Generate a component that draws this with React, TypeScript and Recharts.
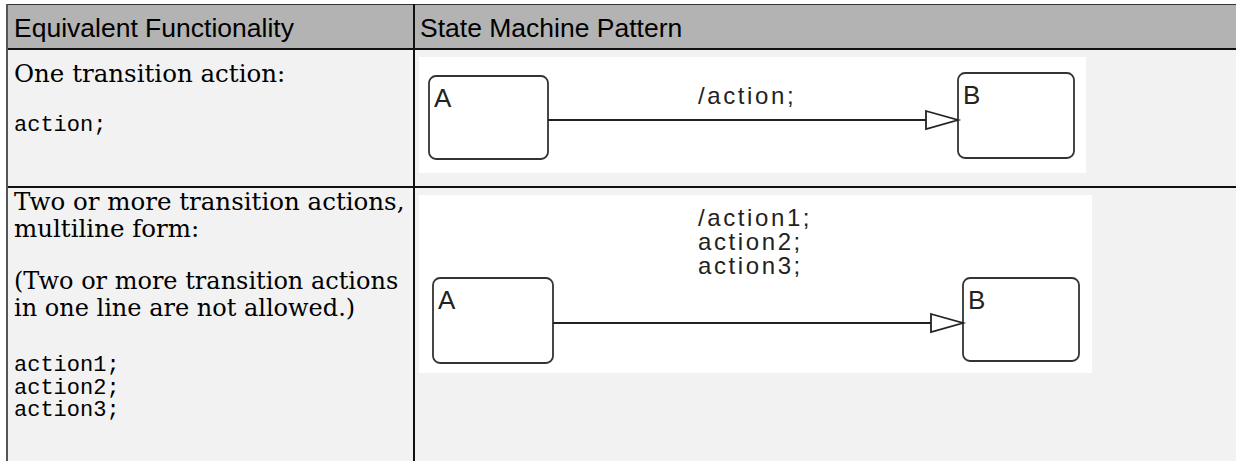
import { ComposedChart, Line, ReferenceArea, ReferenceDot, XAxis, YAxis } from 'recharts';

const columnTitles = ['Equivalent Functionality', 'State Machine Pattern'];

const oneText = ['One transition action:'];
const oneCode = ['action;'];
const twoText = ['Two or more transition actions,', 'multiline form:'];
const twoNote = ['(Two or more transition actions', 'in one line are not allowed.)'];
const twoCode = ['action1;', 'action2;', 'action3;'];

// diagram values are in canvas units (x to the right, y downwards)
const stateNames = ['A', 'B'];

const oneStateX = [[10, 129], [539, 655]];
const oneStateY = [[19, 102], [16, 101]];
const oneEdge = [{ x: 129, y: 63 }, { x: 539, y: 63 }];
const oneLabel = ['/action;'];
const oneLabelAt = { x: 279, y: 47 };

const twoStateX = [[14, 134], [544, 660]];
const twoStateY = [[83, 168], [83, 166]];
const twoEdge = [{ x: 134, y: 128 }, { x: 544, y: 128 }];
const twoLabel = ['/action1;', 'action2;', 'action3;'];
const twoLabelAt = { x: 279, y: 31 };

const SANS = "'Liberation Sans', Arial, sans-serif";
const SERIF = "'DejaVu Serif', serif";
const MONO = "'Liberation Mono', 'Courier New', monospace";
const INK = '#222';

function StateBox(props: any) {
  const { x, y, width, height, name } = props;
  return (
    <g>
      <rect x={x} y={y} width={width} height={height} rx={7} ry={7} fill="#fff" stroke="#333" strokeWidth={1.8} />
      <text x={x + 5} y={y + 31} fontSize={26} fontFamily={SANS} fill={INK}>
        {name}
      </text>
    </g>
  );
}

function Arrowhead(props: any) {
  const { cx, cy, index } = props;
  if (index !== 1) return <g key={`d${index}`} />;
  return (
    <polygon
      key="tip"
      points={`${cx - 32},${cy - 9} ${cx},${cy} ${cx - 32},${cy + 9}`}
      fill="#fff"
      stroke={INK}
      strokeWidth={1.8}
    />
  );
}

function EdgeLabel(props: any) {
  const { cx, cy, lines } = props;
  return (
    <text x={cx} y={cy} fontSize={24} fontFamily={SANS} fill={INK} letterSpacing={2.6}>
      {lines.map((t: string, i: number) => (
        <tspan key={t} x={cx} dy={i === 0 ? 0 : 24}>
          {t}
        </tspan>
      ))}
    </text>
  );
}

function Diagram({ width, height, xs, ys, edge, label, labelAt }: any) {
  return (
    <div style={{ width, height, background: '#fff' }}>
      <ComposedChart width={width} height={height} data={edge} margin={{ top: 0, right: 0, bottom: 0, left: 0 }}>
        <XAxis type="number" dataKey="x" domain={[0, width]} hide />
        <YAxis type="number" domain={[0, height]} reversed hide />
        {stateNames.map((name, i) => (
          <ReferenceArea
            key={name}
            x1={xs[i][0]}
            x2={xs[i][1]}
            y1={ys[i][0]}
            y2={ys[i][1]}
            shape={(p: any) => <StateBox {...p} name={name} />}
          />
        ))}
        <Line dataKey="y" stroke={INK} strokeWidth={1.8} dot={Arrowhead} activeDot={false} isAnimationActive={false} />
        <ReferenceDot x={labelAt.x} y={labelAt.y} r={0} shape={(p: any) => <EdgeLabel {...p} lines={label} />} />
      </ComposedChart>
    </div>
  );
}

function TextBlock({ lines, top, font, size, lh }: any) {
  return (
    <div style={{ position: 'absolute', left: 14, top, fontFamily: font, fontSize: size, lineHeight: `${lh}px`, color: '#000', whiteSpace: 'pre' }}>
      {lines.map((t: string) => (
        <div key={t}>{t}</div>
      ))}
    </div>
  );
}

export default function App() {
  return (
    <div style={{ position: 'absolute', left: 0, top: 0, width: 1236, height: 461, overflow: 'hidden', background: '#fff' }}>
      {/* table body and header */}
      <div style={{ position: 'absolute', left: 7, top: 5, width: 1240, height: 460, background: '#f2f2f2' }} />
      <div style={{ position: 'absolute', left: 7, top: 5, width: 1240, height: 43, background: '#b3b3b3' }} />
      {/* rules */}
      <div style={{ position: 'absolute', left: 6, top: 4, width: 1240, height: 1, background: '#333' }} />
      <div style={{ position: 'absolute', left: 6, top: 48, width: 1240, height: 2, background: '#111' }} />
      <div style={{ position: 'absolute', left: 6, top: 186, width: 1240, height: 2, background: '#111' }} />
      <div style={{ position: 'absolute', left: 6, top: 4, width: 2, height: 470, background: '#555' }} />
      <div style={{ position: 'absolute', left: 413, top: 4, width: 1.5, height: 470, background: '#111' }} />

      {columnTitles.map((t, i) => (
        <div
          key={t}
          style={{ position: 'absolute', left: i === 0 ? 14 : 420, top: 15, fontFamily: SANS, fontSize: 26.5, lineHeight: '26px', color: '#000', whiteSpace: 'pre' }}
        >
          {t}
        </div>
      ))}

      <TextBlock lines={oneText} top={60} font={SERIF} size={24.5} lh={27} />
      <TextBlock lines={oneCode} top={115} font={MONO} size={22} lh={22.5} />
      <TextBlock lines={twoText} top={188} font={SERIF} size={24.5} lh={27} />
      <TextBlock lines={twoNote} top={268} font={SERIF} size={24} lh={27} />
      <TextBlock lines={twoCode} top={355} font={MONO} size={22} lh={22.5} />

      <div style={{ position: 'absolute', left: 419, top: 57 }}>
        <Diagram width={667} height={116} xs={oneStateX} ys={oneStateY} edge={oneEdge} label={oneLabel} labelAt={oneLabelAt} />
      </div>
      <div style={{ position: 'absolute', left: 419, top: 195 }}>
        <Diagram width={673} height={178} xs={twoStateX} ys={twoStateY} edge={twoEdge} label={twoLabel} labelAt={twoLabelAt} />
      </div>
    </div>
  );
}
